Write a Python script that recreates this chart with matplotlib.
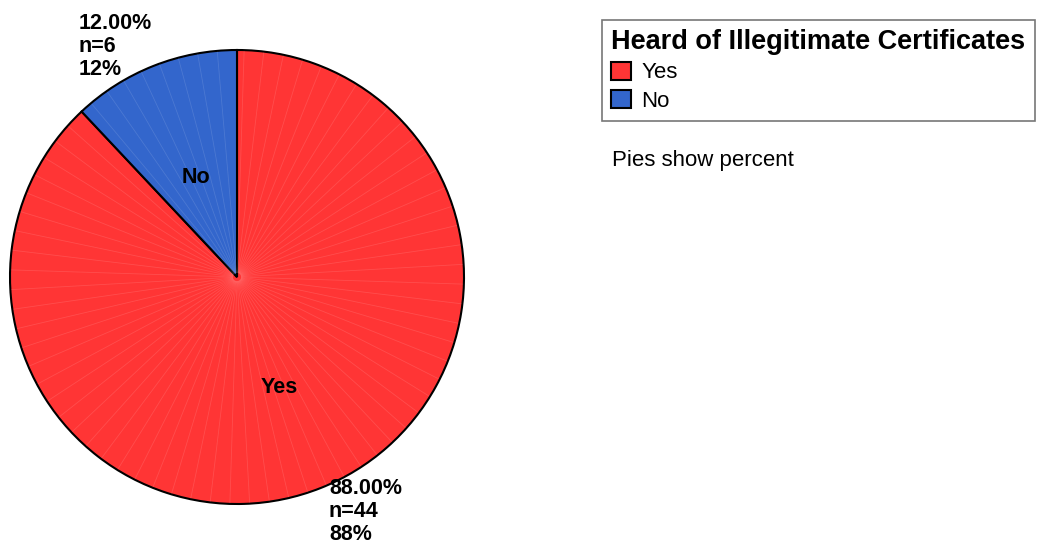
import matplotlib.pyplot as plt
import numpy as np

plt.rcParams["font.family"] = ["Liberation Sans", "DejaVu Sans"]

categories = ["Yes", "No"]
counts = [44, 6]
colors = ["#FF3535", "#3366CC"]
legend_title = "Heard of Illegitimate Certificates"

total = sum(counts)
pcts = [100.0 * c / total for c in counts]

W, H = 1037, 546
fig = plt.figure(figsize=(W / 100, H / 100), dpi=100)

# pie axes placed in pixel units: centre (237, 277), radius ~227
cx, cy, r = 237, 277, 227
ax = fig.add_axes([(cx - r) / W, (H - cy - r) / H, 2 * r / W, 2 * r / H])
wedges, _ = ax.pie(
    counts,
    colors=colors,
    startangle=90,
    counterclock=False,
    radius=1.0,
    wedgeprops=dict(edgecolor="black", linewidth=1.5),
)
ax.set_xlim(-1, 1)
ax.set_ylim(-1, 1)
ax.set_aspect("equal")
ax.axis("off")

# faint facet lines inside each slice
for w in wedges:
    t1, t2 = sorted([w.theta1, w.theta2])
    for t in np.arange(t1 + 5.0, t2 - 1.0, 5.0):
        a = np.radians(t)
        ax.plot([0.02 * np.cos(a), 0.995 * np.cos(a)],
                [0.02 * np.sin(a), 0.995 * np.sin(a)],
                color="white", alpha=0.12, lw=0.6, zorder=3)

# category names inside the slices, value labels outside
inner_pos = {"Yes": (0.185, -0.485), "No": (-0.18, 0.44)}
outer_pos = {"Yes": (329, 478), "No": (79, 13)}
for name, c, p in zip(categories, counts, pcts):
    ix, iy = inner_pos[name]
    ax.text(ix, iy, name, ha="center", va="center",
            fontsize=15.5, fontweight="bold", zorder=5)
    px, py = outer_pos[name]
    fig.text(px / W, 1 - py / H, f"{p:.2f}%\nn={c}\n{p:.0f}%",
             ha="left", va="top", fontsize=15.5, fontweight="bold",
             linespacing=1.12)

leg = fig.legend(
    wedges, categories,
    title=legend_title,
    loc="upper left",
    bbox_to_anchor=(602 / W, 1 - 20 / H),
    fontsize=16,
    title_fontproperties={"weight": "bold", "size": 19.5},
    frameon=True,
    fancybox=False,
    edgecolor="#555555",
    handlelength=0.9,
    handleheight=0.9,
    handletextpad=0.45,
    labelspacing=0.28,
    borderpad=0.42,
    borderaxespad=0,
    alignment="left",
)
leg.get_frame().set_linewidth(1.2)

fig.text(612 / W, 1 - 160 / H, "Pies show percent", ha="left", va="center",
         fontsize=16)

fig.savefig("out.png", dpi=100)
